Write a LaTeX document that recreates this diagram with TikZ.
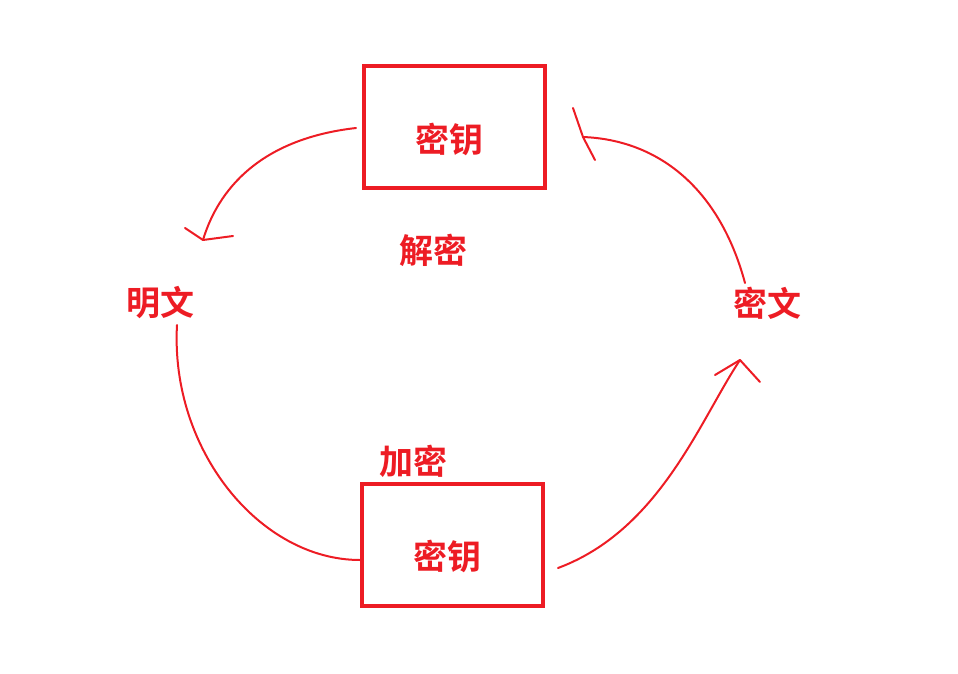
\documentclass[tikz,border=0pt]{standalone}
\usepackage{fontspec}
\newfontfamily\cjk{Noto Sans CJK SC Bold}
\usetikzlibrary{arrows.meta}
\definecolor{rd}{RGB}{237,28,36}
\begin{document}
\begin{tikzpicture}[x=1pt,y=-1pt,
  box/.style={draw=rd,line width=3.5pt,minimum width=181pt,minimum height=122pt,text=rd},
  lbl/.style={font=\cjk\fontsize{34}{34}\selectfont,text=rd},
  pen/.style={draw=rd,line width=2pt,line cap=round,line join=round}]
\useasboundingbox (0,0) rectangle (958,674);
\node[box] (k1) at (454.5,127) {};
\node[box] (k2) at (452.5,545) {};
\node[lbl] (t1) at (449,139) {密钥};
\node[lbl] (t2) at (447,556) {密钥};
\node[lbl] (p) at (160,303) {明文};
\node[lbl] (c) at (767,303) {密文};
\node[lbl] (d) at (433,250) {解密};
\node[lbl] (e) at (413,461) {加密};
\coordinate (a1) at (203,240);
\coordinate (a2) at (583,137);
\coordinate (a3) at (740,360);
\draw[pen] (356,128) .. controls (250,140) and (215,200) .. (a1);
\draw[pen] (a1) -- (185,228) (a1) -- (233,236);
\draw[pen] (745,283) .. controls (720,190) and (660,140) .. (a2);
\draw[pen] (a2) -- (573,108) (a2) -- (595,160);
\draw[pen] (177,325) .. controls (170,450) and (260,560) .. (360,560);
\draw[pen] (558,568) .. controls (660,530) and (700,420) .. (a3);
\draw[pen] (a3) -- (715,375) (a3) -- (760,382);
\end{tikzpicture}
\end{document}
